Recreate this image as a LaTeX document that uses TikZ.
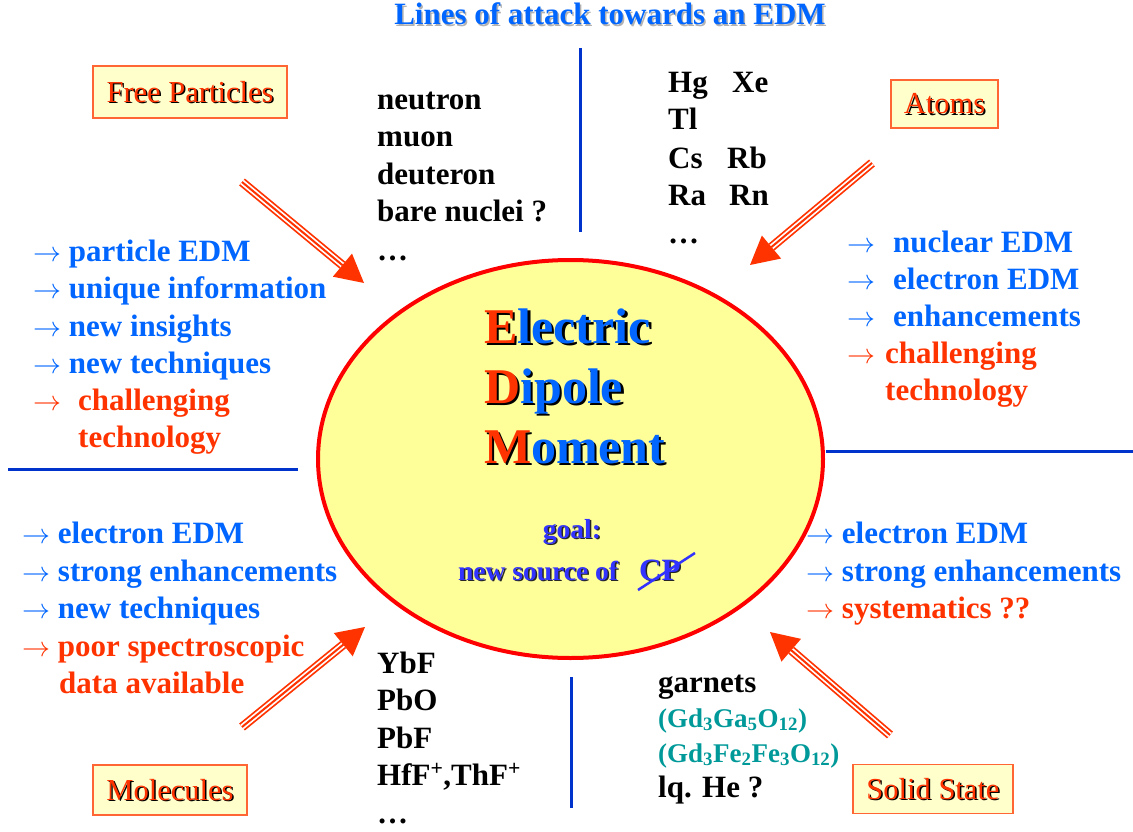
\documentclass[tikz,border=0pt]{standalone}
\usepackage{fontspec}
\setmainfont{Liberation Serif}
\usepackage{graphicx}
\usetikzlibrary{calc,shapes.geometric}
\definecolor{tblue}{HTML}{0066FF}
\definecolor{tred}{HTML}{FF3300}
\definecolor{gblue}{HTML}{3333FF}
\definecolor{lineblue}{HTML}{0033CC}
\definecolor{boxfill}{HTML}{FFFFCC}
\definecolor{boxdraw}{HTML}{FF6633}
\definecolor{ellfill}{HTML}{FFFF99}
\definecolor{formteal}{HTML}{009999}
\definecolor{arrowred}{HTML}{FF3300}
\newcommand{\arr}{\resizebox{28pt}{!}{$\rightarrow$}}
\newcommand{\hl}[1]{\textcolor{tred}{#1}}
\newcommand{\shd}[3]{\makebox[0pt][l]{\hspace*{#1}\raisebox{-#1}[0pt][0pt]{\renewcommand{\hl}[1]{##1}\color{#2}#3}}#3}
\newcommand{\attack}[3]{%
  \coordinate (#1s) at #2;
  \coordinate (#1t) at #3;
  \coordinate (#1b) at ($(#1t)!28pt!(#1s)$);
  \draw[arrowred, line width=9pt] (#1s) -- (#1b);
  \draw[white, line width=5.5pt] (#1s) -- (#1b);
  \draw[arrowred, line width=2pt] (#1s) -- (#1b);
  \fill[arrowred] (#1t) -- ($(#1b)!15pt!90:(#1t)$) -- ($(#1b)!15pt!-90:(#1t)$) -- cycle;
}
\tikzset{
  body/.style={anchor=base west, inner sep=0pt, font=\fontsize{31}{36}\selectfont\bfseries},
  bl/.style={body, text=tblue},
  rd/.style={body, text=tred},
  bk/.style={body, text=black},
  tl/.style={body, text=formteal, font=\fontsize{27}{32}\selectfont\bfseries},
  divider/.style={lineblue, line width=3pt},
  labelbox/.style={draw=boxdraw, fill=boxfill, line width=1.5pt, inner sep=0pt,
    font=\fontsize{30.5}{36}\selectfont, text=tred},
  bigword/.style={anchor=base west, inner sep=0pt, text=tblue,
    font=\fontsize{50}{60}\selectfont\bfseries},
  goaltext/.style={inner sep=0pt, text=gblue, font=\fontsize{27.5}{32}\selectfont\bfseries},
}
\begin{document}
\begin{tikzpicture}[x=1pt,y=-1pt]
\useasboundingbox (0,0) rectangle (1133,832);
\fill[white] (0,0) rectangle (1133,832);

% title
\node[anchor=base, inner sep=0pt, text=tblue, font=\fontsize{31}{36}\selectfont\bfseries]
  (title) at (610,25) {\shd{1.5pt}{black!30}{Lines of attack towards an EDM}};

% dividers
\draw[divider] (580,48) -- (580,232);
\draw[divider] (8,469) -- (298,469);
\draw[divider] (826,451) -- (1133,451);
\draw[divider] (571,677) -- (571,808);

% central ellipse
\node[ellipse, draw=red, fill=ellfill, line width=4pt, minimum width=505pt,
  minimum height=398pt, inner sep=0pt] (edm) at (570.5,459) {};
\node[bigword] (w1) at (484,343) {\shd{2.5pt}{black}{\hl{E}lectric}};
\node[bigword] (w2) at (484,403) {\shd{2.5pt}{black}{\hl{D}ipole}};
\node[bigword] (w3) at (484,463) {\shd{2.5pt}{black}{\hl{M}oment}};
\node[goaltext, anchor=base] (goal) at (572,538) {\shd{1.5pt}{black!85}{goal:}};
\node[goaltext, anchor=base west] (nsrc) at (458,580) {\shd{1.5pt}{black!85}{new source of}};
\node[goaltext, anchor=base west, font=\fontsize{31}{36}\selectfont\bfseries] (cp) at (639,580) {\shd{1.5pt}{black!85}{CP}};
\coordinate (cpa) at (638,590);
\coordinate (cpb) at (695,553);
\draw[gblue, line width=2.5pt] (cpa) -- (cpb);

% label boxes
\node[labelbox, minimum width=194pt, minimum height=52pt] (fp) at (190,92) {\shd{1.5pt}{black}{Free Particles}};
\node[labelbox, minimum width=107pt, minimum height=48pt] (at) at (944.5,104) {\shd{1.5pt}{black}{Atoms}};
\node[labelbox, minimum width=154pt, minimum height=50pt] (mo) at (170,790) {\shd{1.5pt}{black}{Molecules}};
\node[labelbox, minimum width=160pt, minimum height=49pt] (ss) at (933,789) {\shd{1.5pt}{black}{Solid State}};

% arrows
\attack{fa}{(242,182)}{(364,283)}
\attack{aa}{(872,163)}{(750,265)}
\attack{ma}{(242,727)}{(365,627)}
\attack{sa}{(890,735)}{(770,632)}

% top middle: free particles
\node[bk] (t1) at (377,110) {neutron};
\node[bk] (t2) at (377,147) {muon};
\node[bk] (t3) at (377,185) {deuteron};
\node[bk] (t4) at (377,222) {bare nuclei ?};
\node[bk] (t5) at (377,260) {\dots};

% top right: atoms
\node[bk] (a1) at (668,93) {Hg};
\node[bk] (a1b) at (732,93) {Xe};
\node[bk] (a2) at (668,130) {Tl};
\node[bk] (a3) at (668,168) {Cs};
\node[bk] (a3b) at (727,168) {Rb};
\node[bk] (a4) at (668,205) {Ra};
\node[bk] (a4b) at (729,205) {Rn};
\node[bk] (a5) at (668,243) {\dots};

% left list
\node[bl] (l1) at (33,261) {\arr\ particle EDM};
\node[bl] (l2) at (33,298) {\arr\ unique information};
\node[bl] (l3) at (33,336) {\arr\ new insights};
\node[bl] (l4) at (33,373) {\arr\ new techniques};
\node[rd] (l5) at (33,410) {\arr\hspace{17pt}challenging};
\node[rd] (l6) at (78,447) {technology};

% right list
\node[bl] (r1) at (847,252) {\arr\hspace{18pt}nuclear EDM};
\node[bl] (r2) at (847,289) {\arr\hspace{18pt}electron EDM};
\node[bl] (r3) at (847,326) {\arr\hspace{18pt}enhancements};
\node[rd] (r4) at (847,363) {\arr\hspace{10pt}challenging};
\node[rd] (r5) at (885,400) {technology};

% lower left: molecules
\node[bl] (m1) at (22,543) {\arr\ electron EDM};
\node[bl] (m2) at (22,581) {\arr\ strong enhancements};
\node[bl] (m3) at (22,618) {\arr\ new techniques};
\node[rd] (m4) at (22,656) {\arr\ poor spectroscopic};
\node[rd] (m5) at (59,693) {data available};

% lower right: solid state
\node[bl] (s1) at (806,543) {\arr\ electron EDM};
\node[bl] (s2) at (806,581) {\arr\ strong enhancements};
\node[rd] (s3) at (806,618) {\arr\ systematics ??};

% bottom middle: molecules list
\node[bk] (b1) at (377,673) {YbF};
\node[bk] (b2) at (377,710) {PbO};
\node[bk] (b3) at (377,748) {PbF};
\node[bk] (b4) at (377,785) {HfF\textsuperscript{+},ThF\textsuperscript{+}};
\node[bk] (b5) at (377,823) {\dots};

% bottom right: solid state list
\node[bk] (g1) at (658,692) {garnets};
\node[tl] (g2) at (658,727) {(Gd\textsubscript{3}Ga\textsubscript{5}O\textsubscript{12})};
\node[tl] (g3) at (658,762) {(Gd\textsubscript{3}Fe\textsubscript{2}Fe\textsubscript{3}O\textsubscript{12})};
\node[bk] (g4) at (658,797) {lq. He ?};
\end{tikzpicture}
\end{document}
